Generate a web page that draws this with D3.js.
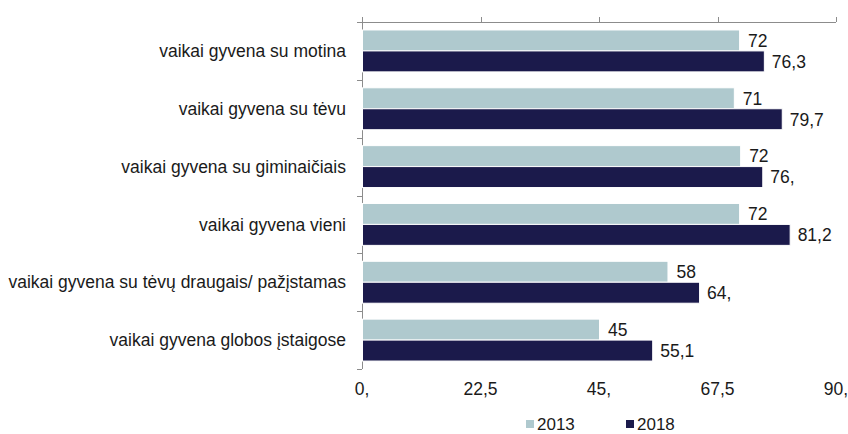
<!DOCTYPE html>
<html>
<head>
<meta charset="utf-8">
<script src="https://cdn.jsdelivr.net/npm/d3@7"></script>
<style>
  body { margin: 0; background: #fff; }
  text { font-family: "Liberation Sans", Arial, sans-serif; fill: #1a1a1a; }
</style>
</head>
<body>
<div id="chart"></div>
<script>
// duomenys
var categories = [
  "vaikai gyvena su motina",
  "vaikai gyvena su tėvu",
  "vaikai gyvena su giminaičiais",
  "vaikai gyvena vieni",
  "vaikai gyvena su tėvų draugais/ pažįstamas",
  "vaikai gyvena globos įstaigose"
];
var values2013 = [71.6, 70.6, 71.8, 71.6, 58, 45];
var labels2013 = ["72", "71", "72", "72", "58", "45"];
var values2018 = [76.3, 79.7, 76, 81.2, 64, 55.1];
var labels2018 = ["76,3", "79,7", "76,", "81,2", "64,", "55,1"];
var tickValues = [0, 22.5, 45, 67.5, 90];
var tickLabels = ["0,", "22,5", "45,", "67,5", "90,"];
var years = ["2013", "2018"];

var w = 848, h = 434;
// "top" uzimtas window.top, todel kiti vardai
var plotL = 362, plotR = 836, plotT = 22, plotB = 369;
var colors = ["#afc9ce", "#1b1a4b"];

var svg = d3.select("#chart").append("svg")
  .attr("width", w)
  .attr("height", h);

var x = d3.scaleLinear().domain([0, 90]).range([plotL, plotR]);
var y = d3.scaleBand().domain(categories).range([plotT, plotB]);
var inner = d3.scaleBand().domain(years).range([0, y.bandwidth()]).paddingOuter(0.38).paddingInner(0);

var rows = categories.map(function(c, i) {
  return { cat: c, vals: [values2013[i], values2018[i]], labs: [labels2013[i], labels2018[i]] };
});

// virsutine asis (tik linija ir padalos)
svg.append("line")
  .attr("x1", plotL).attr("x2", plotR)
  .attr("y1", plotT + 0.5).attr("y2", plotT + 0.5)
  .attr("stroke", "#8c8c8c").attr("stroke-width", 1);
svg.selectAll(".xtick").data(tickValues).enter().append("line")
  .attr("x1", d => Math.round(x(d)) + 0.5).attr("x2", d => Math.round(x(d)) + 0.5)
  .attr("y1", plotT - 5).attr("y2", plotT)
  .attr("stroke", "#8c8c8c");

// kaire asis
svg.append("line")
  .attr("x1", plotL + 0.5).attr("x2", plotL + 0.5)
  .attr("y1", plotT).attr("y2", plotB)
  .attr("stroke", "#8c8c8c");
var bounds = categories.map(d => y(d)).concat([plotB]);
svg.selectAll(".ytick").data(bounds).enter().append("line")
  .attr("x1", plotL - 5).attr("x2", plotL)
  .attr("y1", d => Math.round(d) + 0.5).attr("y2", d => Math.round(d) + 0.5)
  .attr("stroke", "#8c8c8c");

// kategoriju pavadinimai
svg.selectAll(".cat").data(categories).enter().append("text")
  .attr("x", plotL - 16)
  .attr("y", d => y(d) + y.bandwidth() / 2)
  .attr("dy", "0.35em")
  .attr("text-anchor", "end")
  .style("font-size", "17.5px")
  .text(d => d);

// stulpeliai
var g = svg.selectAll(".row").data(rows).enter().append("g")
  .attr("transform", d => "translate(0," + y(d.cat) + ")");

years.forEach(function(yr, k) {
  g.append("rect")
    .attr("x", x(0) + 0.5)
    .attr("y", inner(yr))
    .attr("width", d => x(d.vals[k]) - x(0))
    .attr("height", inner.bandwidth())
    .attr("fill", colors[k])
    .attr("stroke", "#ffffff")
    .attr("stroke-width", 1);

  g.append("text")
    .attr("x", d => x(d.vals[k]) + (k == 0 ? 9 : 8))
    .attr("y", inner(yr) + inner.bandwidth() / 2)
    .attr("dy", "0.36em")
    .style("font-size", "17.5px")
    .text(d => d.labs[k]);
});

// apatines asies uzrasai
svg.selectAll(".xlab").data(tickValues).enter().append("text")
  .attr("x", d => x(d))
  .attr("y", 395)
  .attr("text-anchor", "middle")
  .style("font-size", "17.5px")
  .text((d, i) => tickLabels[i]);

// legenda
var legX = [526, 626];
var leg = svg.selectAll(".leg").data(years).enter().append("g")
  .attr("transform", (d, i) => "translate(" + legX[i] + ",0)");
leg.append("rect")
  .attr("x", 0).attr("y", 420)
  .attr("width", 8).attr("height", 8)
  .attr("fill", (d, i) => colors[i]);
leg.append("text")
  .attr("x", 11).attr("y", 430)
  .style("font-size", "17px")
  .text(d => d);
</script>
</body>
</html>
